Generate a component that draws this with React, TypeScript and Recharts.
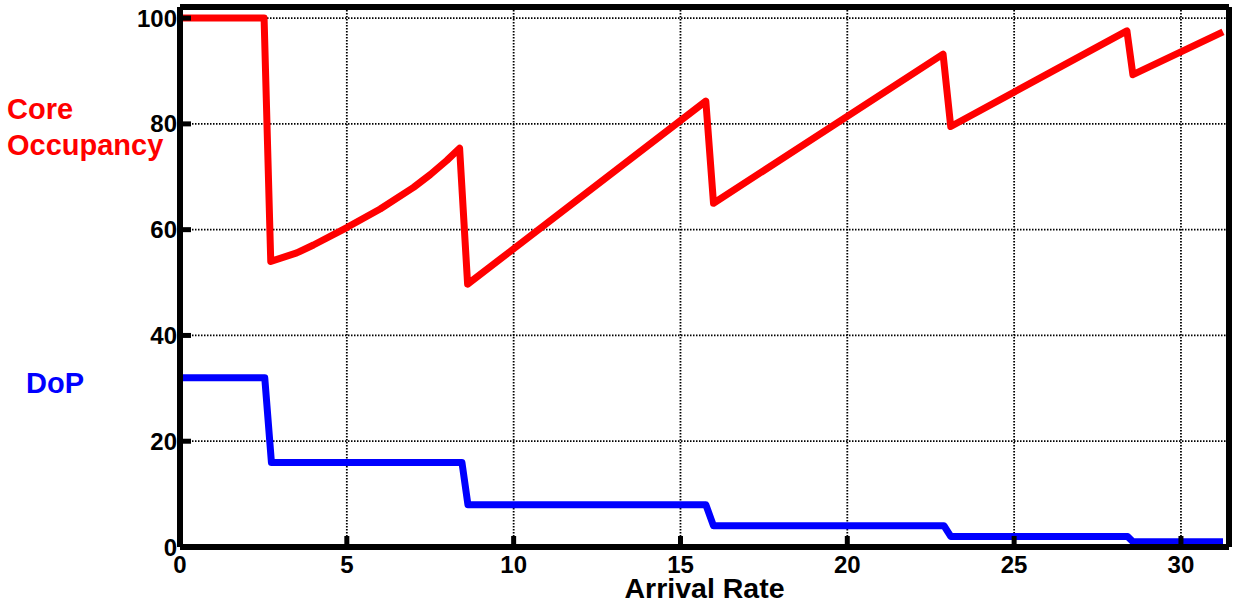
import React from 'react';
import { LineChart, Line, XAxis, YAxis, CartesianGrid, ReferenceLine } from 'recharts';

// core occupancy (%) vs arrival rate
const occX = [0, 2.52, 2.72, 3.5, 4, 5, 6, 7, 7.5, 8, 8.38, 8.62, 15.76, 15.99, 22.87, 23.1, 28.38, 28.56, 31.26];
const occY = [100, 100, 54, 55.6, 57.1, 60.4, 63.9, 68, 70.4, 73.1, 75.4, 49.7, 84.3, 65, 93.2, 79.5, 97.6, 89.3, 97.4];

// degree of parallelism vs arrival rate
const dopX = [0, 2.54, 2.74, 8.45, 8.63, 15.76, 15.99, 22.9, 23.1, 28.4, 28.56, 31.26];
const dopY = [32, 32, 16, 16, 8, 8, 4, 4, 2, 2, 1, 1];

const xTicks = [0, 5, 10, 15, 20, 25, 30];
const yTicks = [0, 20, 40, 60, 80, 100];
const X_MAX = 31.44;
const Y_MAX = 102.1;

const occData = occX.map((x, i) => ({ x, y: occY[i] }));
const dopData = dopX.map((x, i) => ({ x, y: dopY[i] }));

const FONT = '"Liberation Sans", Arial, Helvetica, sans-serif';
const STUB = 11;

// text + inward tick mark, drawn by hand so the mark sits inside the frame
const BottomTick = (props: any) => {
  const { x, y, payload } = props;
  return (
    <g>
      <path d={`M${x},${y}V${y - STUB}`} stroke="#000" strokeWidth={5} fill="none" />
      <text x={x} y={y + 26} textAnchor="middle" fontFamily={FONT} fontWeight="bold" fontSize={24} fill="#000" stroke="none">
        {payload.value}
      </text>
    </g>
  );
};

const LeftTick = (props: any) => {
  const { x, y, payload } = props;
  return (
    <g>
      <path d={`M${x},${y}H${x + STUB}`} stroke="#000" strokeWidth={5} fill="none" />
      <text x={x - 3} y={y + 8.5} textAnchor="end" fontFamily={FONT} fontWeight="bold" fontSize={24} fill="#000" stroke="none">
        {payload.value}
      </text>
    </g>
  );
};

const TopTick = (props: any) => {
  const { x, y } = props;
  return <path d={`M${x},${y}V${y + STUB}`} stroke="#000" strokeWidth={5} fill="none" />;
};

const RightTick = (props: any) => {
  const { x, y } = props;
  return <path d={`M${x},${y}H${x - STUB}`} stroke="#000" strokeWidth={5} fill="none" />;
};

const SideLabels = () => (
  <g fontFamily={FONT} fontWeight="bold" fontSize={29}>
    <text x={7} y={119} fill="#ff0000">Core</text>
    <text x={7} y={155} fill="#ff0000">Occupancy</text>
    <text x={26} y={393} fill="#0000ff">DoP</text>
  </g>
);

const XLabel = (props: any) => {
  const vb = props.viewBox;
  return (
    <text
      x={vb.x + vb.width / 2}
      y={vb.y + 51}
      textAnchor="middle"
      fontFamily={FONT}
      fontWeight="bold"
      fontSize={28.5}
      fill="#000"
    >
      Arrival Rate
    </text>
  );
};

const axisLine = { stroke: '#000', strokeWidth: 6 };

export default function App() {
  return (
    <div style={{ position: 'absolute', left: 0, top: 0, background: '#fff' }}>
      <LineChart width={1236} height={603} margin={{ top: 7, right: 7, bottom: 0, left: 0 }}>
        <CartesianGrid stroke="#000" strokeWidth={1.8} strokeDasharray="1.5 1.5" />
        <XAxis
          dataKey="x"
          type="number"
          domain={[0, X_MAX]}
          ticks={xTicks}
          allowDataOverflow
          height={56}
          tickSize={0}
          tickMargin={0}
          tick={BottomTick}
          tickLine={false}
          axisLine={false}
          label={{ content: XLabel }}
        />
        <XAxis
          xAxisId="top"
          orientation="top"
          type="number"
          domain={[0, X_MAX]}
          ticks={xTicks}
          allowDataOverflow
          height={0}
          tickSize={0}
          tickMargin={0}
          tick={TopTick}
          tickLine={false}
          axisLine={false}
        />
        <YAxis
          type="number"
          domain={[0, Y_MAX]}
          ticks={yTicks}
          allowDataOverflow
          width={180}
          tickSize={0}
          tickMargin={0}
          tick={LeftTick}
          tickLine={false}
          axisLine={false}
          label={{ content: SideLabels }}
        />
        <YAxis
          yAxisId="right"
          orientation="right"
          type="number"
          domain={[0, Y_MAX]}
          ticks={yTicks}
          allowDataOverflow
          width={0}
          tickSize={0}
          tickMargin={0}
          tick={RightTick}
          tickLine={false}
          axisLine={false}
        />
        <Line
          data={occData}
          dataKey="y"
          type="linear"
          stroke="#ff0000"
          strokeWidth={7}
          strokeLinejoin="round"
          dot={false}
          activeDot={false}
          isAnimationActive={false}
        />
        <Line
          data={dopData}
          dataKey="y"
          type="linear"
          stroke="#0000ff"
          strokeWidth={7}
          strokeLinejoin="round"
          dot={false}
          activeDot={false}
          isAnimationActive={false}
        />
        <ReferenceLine x={0} ifOverflow="visible" stroke="#000" strokeWidth={6} />
        <ReferenceLine x={X_MAX} ifOverflow="visible" stroke="#000" strokeWidth={6} />
        <ReferenceLine y={0} ifOverflow="visible" stroke="#000" strokeWidth={6} />
        <ReferenceLine y={Y_MAX} ifOverflow="visible" stroke="#000" strokeWidth={6} />
      </LineChart>
    </div>
  );
}
